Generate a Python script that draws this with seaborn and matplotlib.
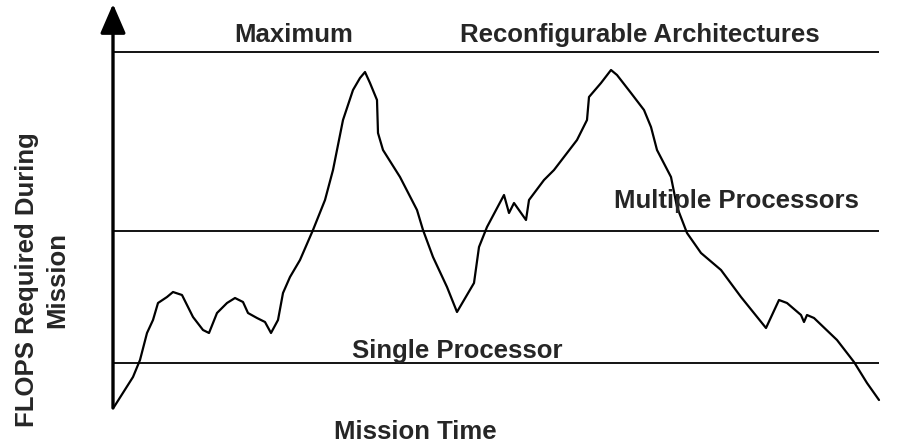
import matplotlib
matplotlib.use("Agg")
import matplotlib.pyplot as plt
import seaborn as sns
import pandas as pd

# Mission-time profile (arbitrary units: time, FLOPS required)
mission_time = [1, 20, 27, 34, 40, 45, 54, 60, 69, 75, 80, 90, 96, 104, 114, 122, 130,
                135, 144, 152, 158, 165, 170, 177, 187, 200, 212, 220, 230, 240, 247,
                252, 257, 264, 265, 270, 287, 304, 310, 320, 334, 344, 361, 366, 374,
                391, 396, 401, 413, 416, 431, 441, 464, 474, 476, 488, 498, 504, 518,
                531, 538, 544, 558, 564, 574, 588, 608, 628, 653, 666, 674, 688, 691,
                694, 701, 724, 741, 754, 766]
flops_required = [0, 30, 47, 74, 87, 104, 110, 115, 112, 100, 90, 77, 74, 94, 104, 109, 105,
                  94, 89, 85, 74, 87, 114, 130, 147, 177, 207, 237, 287, 317, 329,
                  335, 324, 307, 274, 257, 230, 197, 177, 150, 120, 95, 124, 160, 180,
                  212, 194, 204, 187, 207, 227, 237, 267, 287, 310, 324, 337, 332, 314,
                  297, 280, 257, 230, 200, 174, 154, 137, 110, 79, 107, 104, 92, 85,
                  92, 89, 67, 45, 24, 7]

level_names = ["Single Processor", "Multiple Processors", "Maximum"]
level_values = [44, 176, 355]

sns.set_theme(style="white")
plt.rcParams["font.family"] = ["Liberation Sans", "DejaVu Sans"]

fig = plt.figure(figsize=(9.14, 4.45), dpi=100)
ax = fig.add_axes([0, 0, 1, 1])
ax.set_xlim(-113, 801)
ax.set_ylim(-38, 407)
ax.axis("off")

df = pd.DataFrame({"time": mission_time, "flops": flops_required})
sns.lineplot(data=df, x="time", y="flops", sort=False, estimator=None,
             color="black", linewidth=1.6, ax=ax)

x_end = mission_time[-1]
for val in level_values:
    ax.plot([0, x_end], [val, val], color="black", linewidth=1.3, solid_capstyle="butt")

# axes with arrows
ax.annotate("", xy=(0, 403), xytext=(0, -1),
            arrowprops=dict(arrowstyle="-|>,head_length=1.5,head_width=0.65",
                            color="black", lw=2.4, shrinkA=0, shrinkB=0))
ax.annotate("", xy=(803, 0), xytext=(-1, 0),
            arrowprops=dict(arrowstyle="-|>,head_length=1.5,head_width=0.65",
                            color="black", lw=2.4, shrinkA=0, shrinkB=0))

fs = 18.5
ax.text(181, 372, "Maximum", ha="center", va="center", fontsize=fs, fontweight="bold")
ax.text(527, 372, "Reconfigurable Architectures", ha="center", va="center",
        fontsize=fs, fontweight="bold")
ax.text(623, 206, "Multiple Processors", ha="center", va="center",
        fontsize=fs, fontweight="bold")
ax.text(344, 56, "Single Processor", ha="center", va="center",
        fontsize=fs, fontweight="bold")
ax.text(302, -25, "Mission Time", ha="center", va="center",
        fontsize=fs, fontweight="bold")
ax.text(-71, 127, "FLOPS Required During\nMission", ha="center", va="center",
        rotation=90, fontsize=fs, fontweight="bold", linespacing=1.3)

fig.savefig("out.png", dpi=100)
